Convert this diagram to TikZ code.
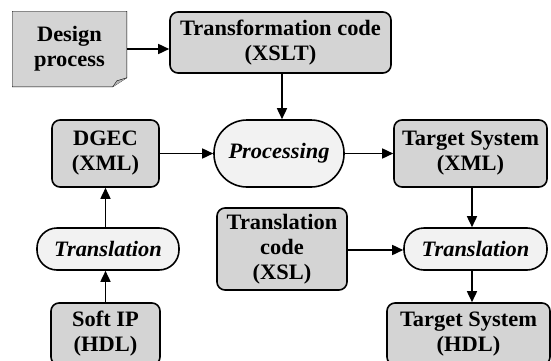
\documentclass[tikz,border=0pt]{standalone}
\usepackage{fontspec}
\setmainfont{Liberation Serif}[FakeStretch=1.02]
\usetikzlibrary{arrows.meta,backgrounds}

\definecolor{boxgray}{HTML}{D4D4D4}
\definecolor{ovalgray}{HTML}{F2F2F2}

\begin{document}
\begin{tikzpicture}[x=1pt, y=1pt, line width=1.6pt,
	box/.style={rectangle, draw, fill=boxgray, rounded corners=8pt, align=center, inner sep=0pt, font=\fontsize{22}{25}\selectfont\bfseries},
	oval/.style={rectangle, draw, fill=ovalgray, rounded corners=20pt, align=center, inner sep=0pt, font=\fontsize{22}{25}\selectfont\bfseries\itshape},
	flow/.style={-{Triangle[length=11pt,width=10pt]}}]

\useasboundingbox (0,0) rectangle (551,360);

% boxes
\node[align=center, inner sep=0pt, minimum width=113pt, minimum height=74pt, font=\fontsize{22}{25}\selectfont\bfseries] (design) at (69.5,311) {Design\\process};
\node[box, minimum width=221pt, minimum height=61pt] (transform) at (280.5,317.5) {Transformation code\\(XSLT)};
\node[oval, rounded corners=33pt, minimum width=130pt, minimum height=67pt] (proc) at (279,206.5) {Processing};
\node[box, minimum width=107pt, minimum height=67pt] (dgec) at (105.5,206.5) {DGEC\\(XML)};
\node[box, minimum width=153pt, minimum height=67pt] (tsxml) at (470.5,206.5) {Target System\\(XML)};
\node[box, minimum width=130pt, minimum height=82pt] (tcode) at (282,111) {Translation\\code\\(XSL)};
\node[oval, minimum width=143pt, minimum height=42pt] (trright) at (475.5,111) {Translation};
\node[oval, minimum width=142pt, minimum height=42pt] (trleft) at (108,111) {Translation};
\node[box, minimum width=109pt, minimum height=62pt] (softip) at (105.5,26) {Soft IP\\(HDL)};
\node[box, minimum width=163pt, minimum height=62pt] (tshdl) at (468.5,26) {Target System\\(HDL)};

% folded corner of the design note
\begin{scope}[on background layer]
\draw[fill=boxgray] (design.north west) -- (design.north east) -- ([yshift=9pt]design.south east)
	-- ([xshift=-14pt]design.south east) -- (design.south west) -- cycle;
\draw[fill=gray!60] ([xshift=-14pt]design.south east) -- ([xshift=-10pt,yshift=6pt]design.south east) -- ([yshift=9pt]design.south east);
\end{scope}

% arrows
\draw[flow] (design.east) -- (design.east -| transform.west);
\draw[flow] ([xshift=1.5pt]transform.south) -- ([xshift=1.5pt]transform.south |- proc.north);
\draw[flow] (dgec.east) -- (proc.west);
\draw[flow] (proc.east) -- (tsxml.west);
\draw[flow] ([xshift=1.5pt]tsxml.south) -- ([xshift=1.5pt]tsxml.south |- trright.north);
\draw[flow] ([yshift=-1pt]tcode.east) -- ([yshift=-1pt]tcode.east -| trright.west);
\draw[flow] ([xshift=1.5pt]tsxml.south |- trright.south) -- ([xshift=1.5pt]tsxml.south |- tshdl.north);
\draw[flow] (softip.north) -- (softip.north |- trleft.south);
\draw[flow] (softip.north |- trleft.north) -- (dgec.south);

\end{tikzpicture}
\end{document}
